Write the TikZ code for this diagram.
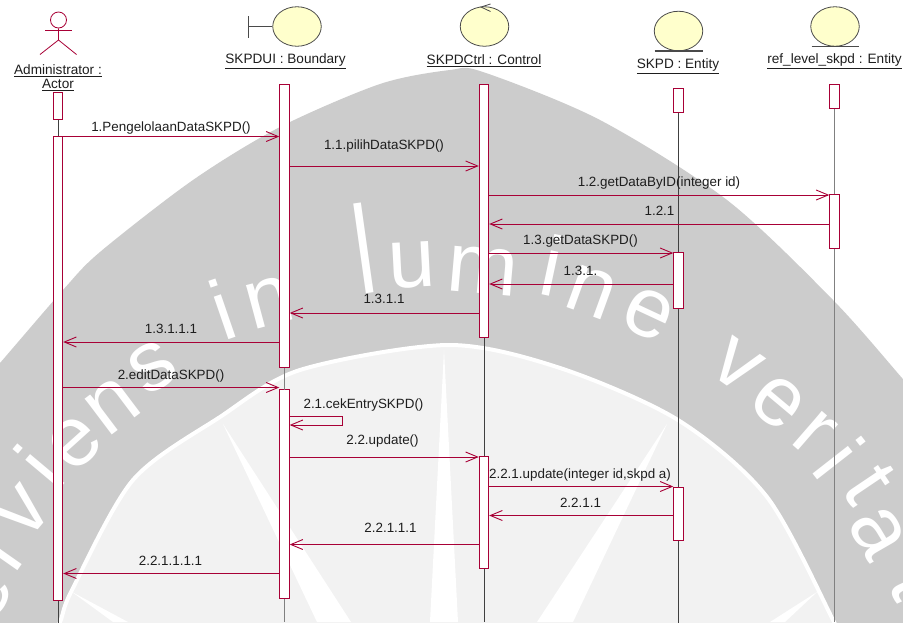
\documentclass[tikz,border=0pt]{standalone}
\usepackage{fontspec}
\setmainfont{Liberation Sans}
\usetikzlibrary{arrows.meta,shapes.geometric}
\definecolor{roselin}{HTML}{A80036}
\definecolor{robfill}{HTML}{FFFFCC}
\definecolor{robline}{HTML}{4A4A4A}
\definecolor{msgtext}{HTML}{1E1E1E}
\definecolor{wmgray}{HTML}{CCCCCC}
\definecolor{wmlight}{HTML}{F2F2F2}
\tikzset{
    actbox/.style={draw=roselin, fill=white, line width=0.9pt, minimum width=9.5pt, inner sep=0pt, anchor=north},
    lifeln/.style={draw=black!75, line width=0.7pt, dash pattern=on 1.2pt off 0.3pt},
    lifelnwide/.style={draw=black!50, line width=1.2pt, dash pattern=on 1.2pt off 0.3pt},
    msgline/.style={draw=roselin, line width=0.9pt, -{Straight Barb[length=12pt,width=10pt]}},
    msglabel/.style={text=msgtext, font=\fontsize{13.4}{15}\selectfont, inner sep=0pt, anchor=base, yshift=-4pt},
    objlabel/.style={text=msgtext, font=\fontsize{13.6}{14}\selectfont, inner sep=0pt, align=center},
    robust/.style={draw=robline, fill=robfill, line width=0.8pt, ellipse, minimum width=48.5pt, minimum height=39.5pt, inner sep=0pt},
    wmletter/.style={text=white, font=\fontsize{85}{85}\selectfont, text height=44pt, text depth=0pt, inner sep=0pt}
}
\begin{document}
\begin{tikzpicture}[x=1pt,y=-1pt]
    \useasboundingbox (0,0) rectangle (903,622);
    % watermark
    \begin{scope}
        \clip (0,0) rectangle (903,622);
        \fill[white] (0,0) rectangle (903,622);
        \fill[wmgray] plot[smooth] coordinates {(-20,385) (0,363) (63,290) (100,252) (193,180) (280,127) (380,84) (450,70) (483,72) (600,120) (727,200) (833,300) (902,378) (925,405)} -- (925,640) -- (-20,640) -- cycle;
        \foreach \ltr/\lx/\ly/\rot [count=\i] in {e/-15/595/60, r/5/551/55, v/24/512/50, i/46/472/50, e/75/443/42, n/113/407/37, s/153/368/32, i/225/318/19, n/270/303/15, u/412/265/3, m/483/272/-5, i/550/274/-12, n/591/293/-20, e/648/315/-25, v/737/366/-35, e/778/403/-40, r/814/434/-41, i/833/463/-52, t/865/487/-56, a/877/533/-60, t/912/585/-65}
            \node[wmletter, rotate=\rot] (wm\i) at (\lx,\ly) {\ltr};
        \node[text=white, font=\fontsize{125}{125}\selectfont, inner sep=0pt, anchor=base, rotate=8, xscale=0.7] (wml) at (370,293) {l};
        \fill[wmlight] plot[smooth] coordinates {(45,650) (60,622) (72,590) (133,480) (220,417) (300,370) (448,345) (560,368) (678,420) (767,497) (833,620) (845,650)} -- cycle;
        \fill[white] (444,350) -- (430,622) -- (458,622) -- cycle;
        \fill[white] (223,424) -- (317,622) -- (351,622) -- cycle;
        \fill[white] (667,424) -- (537,622) -- (573,622) -- cycle;
        \fill[white] (72,592) -- (113,622) -- (128,622) -- cycle;
        \fill[white] (817,592) -- (770,622) -- (785,622) -- cycle;
        \draw[white, line width=4pt] plot[smooth] coordinates {(45,650) (60,622) (72,590) (133,480) (220,417) (300,370) (448,345) (560,368) (678,420) (767,497) (833,620) (845,650)};
    \end{scope}
    % objects
    \node[circle, draw=roselin, line width=0.8pt, minimum size=16pt, inner sep=0pt] (adminHead) at (58.5,20) {};
    \coordinate (adminHip) at (58.5,40);
    \draw[roselin, line width=0.8pt] (adminHead.south) -- (adminHip) -- (40,54.5);
    \draw[roselin, line width=0.8pt] (adminHip) -- (76.5,54.5);
    \draw[roselin, line width=0.8pt] (45,30.5) -- (72,30.5);
    \node[robust] (bndIcon) at (297,26.5) {};
    \coordinate (bndBar) at (248.5,26.5);
    \draw[robline, line width=0.8pt] (bndIcon.west) -- (bndBar);
    \draw[robline, line width=0.8pt] (248.5,16) -- (248.5,37.5);
    \node[robust] (ctlIcon) at (484.5,26.5) {};
    \draw[robline, line width=0.8pt] (490.5,4) -- (481,7) -- (490.5,11.5);
    \node[robust] (skpdIcon) at (678.5,31) {};
    \draw[robline, line width=1.6pt] (654.5,51) -- (703,51);
    \node[robust] (refIcon) at (835,26.5) {};
    \draw[robline, line width=0.8pt] (811.5,46.5) -- (859,46.5);
    \node[objlabel] (adminName) at (58,78) {\underline{Administrator :}\\\underline{Actor}};
    \node[objlabel] (bndName) at (285.5,61) {\underline{SKPDUI : Boundary}};
    \node[objlabel] (ctlName) at (484,61) {\underline{SKPDCtrl : Control}};
    \node[objlabel] (skpdName) at (678,66) {\underline{SKPD : Entity}};
    \node[objlabel] (refName) at (834.5,61) {\underline{ref\_level\_skpd : Entity}};
    % activations
    \foreach \nm/\cx/\ytop/\len in {adminA/58/92/27, adminB/58/136/464, bndA/284.5/83.5/283.5, bndB/284.5/389/209, ctlA/484/83.5/253.5, ctlB/484/456/112, skpdA/678.5/87.5/24.5, skpdB/678.5/252/56, skpdC/678.5/486.5/53.5, refA/834.5/83.5/24.5, refB/834.5/194/54}
        \node[actbox, minimum height=\len pt] (\nm) at (\cx,\ytop) {};
    % lifelines
    \draw[lifeln] (adminA.south) -- (adminB.north);
    \draw[lifeln] (adminB.south) -- (58,622);
    \draw[lifelnwide] (bndA.south) -- (bndB.north);
    \draw[lifelnwide] (bndB.south) -- (284.5,622);
    \draw[lifeln] (ctlA.south) -- (ctlB.north);
    \draw[lifeln] (ctlB.south) -- (484,622);
    \draw[lifeln] (skpdA.south) -- (skpdB.north);
    \draw[lifeln] (skpdB.south) -- (skpdC.north);
    \draw[lifeln] (skpdC.south) -- (678.5,622);
    \draw[lifelnwide] (refA.south) -- (refB.north);
    \draw[lifelnwide] (refB.south) -- (834.5,622);
    % messages
    \foreach \src/\tgt/\yy/\lx/\ly/\txt [count=\i] in {
        adminB.east/bndA.west/136.5/171/127/{1.PengelolaanDataSKPD()},
        bndA.east/ctlA.west/166/384/145/{1.1.pilihDataSKPD()},
        ctlA.east/refB.west/195/659/182/{1.2.getDataByID(integer id)},
        refB.west/ctlA.east/224/659.5/211/{1.2.1},
        ctlA.east/skpdB.west/253/580.5/240/{1.3.getDataSKPD()},
        skpdB.west/ctlA.east/284/580.5/271/{1.3.1.},
        ctlA.west/bndA.east/313/384/299/{1.3.1.1},
        bndA.west/adminB.east/342/171/329/{1.3.1.1.1},
        adminB.east/bndB.west/387.5/171/375/{2.editDataSKPD()},
        bndB.east/ctlB.west/457/382.5/440/{2.2.update()},
        ctlB.east/skpdC.west/486.5/580/474/{2.2.1.update(integer id,skpd a)},
        skpdC.west/ctlB.east/515.5/580.5/503/{2.2.1.1},
        ctlB.west/bndB.east/544.5/390.5/528/{2.2.1.1.1},
        bndB.west/adminB.east/573.5/170.5/561/{2.2.1.1.1.1}}{
        \draw[msgline] (\src |- 0,\yy) -- (\tgt |- 0,\yy);
        \node[msglabel] (msg\i) at (\lx,\ly) {\txt};
    }
    \coordinate (selfTop) at (342,416.5);
    \coordinate (selfBot) at (342,425);
    \draw[msgline] (bndB.east |- selfTop) -- (selfTop) -- (selfBot) -- (bndB.east |- selfBot);
    \node[msglabel] (msgSelf) at (363.5,404) {2.1.cekEntrySKPD()};
\end{tikzpicture}
\end{document}
